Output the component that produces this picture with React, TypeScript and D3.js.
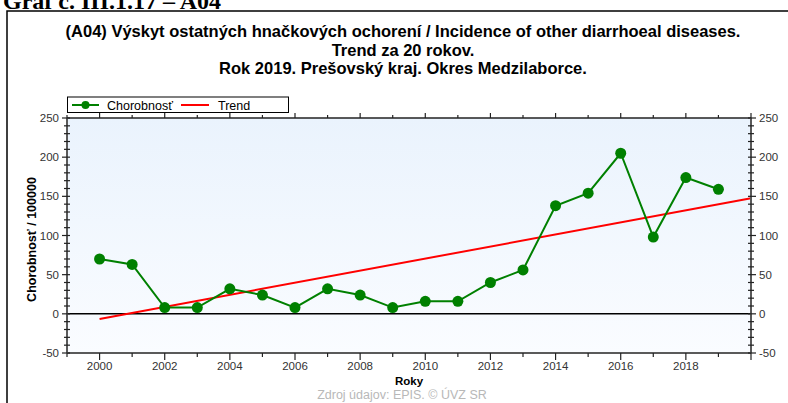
import React from "react";
import * as d3 from "d3";

const years = [2000,2001,2002,2003,2004,2005,2006,2007,2008,2009,2010,2011,2012,2013,2014,2015,2016,2017,2018,2019];
const chorobnost = [70,63,8,8,32,24,8,32,24,8,16,16,40,56,138,154,205,98,174,159];
const trendYears = [2000, 2020];
const trendValues = [-6.5, 147.5];
const yMajorTicks = [-50, 0, 50, 100, 150, 200, 250];
const xLabelYears = [2000,2002,2004,2006,2008,2010,2012,2014,2016,2018];
const titleLines = [
  "(A04) Výskyt ostatných hnačkových ochorení / Incidence of other diarrhoeal diseases.",
  "Trend za 20 rokov.",
  "Rok 2019. Prešovský kraj. Okres Medzilaborce.",
];

export default function App() {
  const W = 788, H = 403;
  const L = 67, R = 751, T = 118, B = 353;
  const x = d3.scaleLinear().domain([1999, 2020]).range([L, R]);
  const y = d3.scaleLinear().domain([-50, 250]).range([B, T]);
  const line = d3.line<number>().x((_, i) => x(years[i])).y((d) => y(d));
  const minorY = d3.range(-50, 251, 10);
  const allYears = d3.range(1999, 2021);
  const axisCol = "#5a5a5a";
  const font = "'Liberation Sans', Arial, sans-serif";
  const titleY = [37, 55.5, 74];
  return (
    <svg width={W} height={H} style={{ position: "absolute", left: 0, top: 0, display: "block" }}>
      <defs>
        <linearGradient id="bg" x1="0" y1="0" x2="0" y2="1">
          <stop offset="0" stopColor="#eaf3fd" />
          <stop offset="1" stopColor="#fafcff" />
        </linearGradient>
      </defs>
      <rect x={0} y={0} width={W} height={H} fill="#fff" />
      <text x={3} y={9} fontFamily="'Liberation Serif', 'Times New Roman', serif" fontWeight="bold" fontSize={24} fill="#000">Graf č. III.1.17 – A04</text>
      <rect x={7} y={11} width={W} height={H} fill="#fff" stroke="#000" strokeWidth={1.5} />
      {titleLines.map((t, i) => (
        <text key={i} x={403} y={titleY[i]} textAnchor="middle" fontFamily={font} fontWeight="bold" fontSize={16.5} fill="#000">{t}</text>
      ))}
      {/* legend */}
      <rect x={67.5} y={97} width={221} height={15.5} fill="#fff" stroke="#000" strokeWidth={1} />
      <line x1={72} x2={99} y1={105} y2={105} stroke="#008000" strokeWidth={2} />
      <circle cx={85.5} cy={105} r={4} fill="#008000" />
      <text x={107} y={109.5} fontFamily={font} fontSize={12.5} fill="#000">Chorobnosť</text>
      <line x1={181} x2={209} y1={105} y2={105} stroke="#ff0000" strokeWidth={2} />
      <text x={218} y={109.5} fontFamily={font} fontSize={12.5} fill="#000">Trend</text>
      {/* plot */}
      <rect x={L} y={T} width={R - L} height={B - T} fill="url(#bg)" />
      <line x1={L} x2={R} y1={y(0)} y2={y(0)} stroke="#000" strokeWidth={1.5} />
      <line x1={x(trendYears[0])} x2={x(trendYears[1])} y1={y(trendValues[0])} y2={y(trendValues[1])} stroke="#ff0000" strokeWidth={2} />
      <path d={line(chorobnost) || ""} fill="none" stroke="#008000" strokeWidth={2} />
      {chorobnost.map((v, i) => (
        <circle key={i} cx={x(years[i])} cy={y(v)} r={5.5} fill="#008000" />
      ))}
      {/* axes */}
      <line x1={L} x2={R} y1={T} y2={T} stroke="#222" strokeWidth={1.5} />
      <line x1={L} x2={R} y1={B} y2={B} stroke={axisCol} strokeWidth={2} />
      <line x1={L} x2={L} y1={T} y2={B} stroke={axisCol} strokeWidth={2} />
      <line x1={R} x2={R} y1={T} y2={B} stroke={axisCol} strokeWidth={2} />
      {allYears.map((yr) => {
        const major = yr % 2 === 0;
        return (
          <g key={yr}>
            <line x1={x(yr)} x2={x(yr)} y1={B} y2={B + (major ? 7 : 4)} stroke="#222" strokeWidth={1.2} />
            <line x1={x(yr)} x2={x(yr)} y1={T} y2={T - (major ? 5 : 3)} stroke="#222" strokeWidth={1.2} />
          </g>
        );
      })}
      {minorY.map((v) => {
        const major = v % 50 === 0;
        return (
          <g key={v}>
            <line x1={L - (major ? 5 : 3)} x2={L + 3} y1={y(v)} y2={y(v)} stroke="#222" strokeWidth={1.2} />
            <line x1={R - 3} x2={R + (major ? 5 : 3)} y1={y(v)} y2={y(v)} stroke="#222" strokeWidth={1.2} />
          </g>
        );
      })}
      {yMajorTicks.map((v) => (
        <g key={v}>
          <text x={59} y={y(v) + 4} textAnchor="end" fontFamily={font} fontSize={11.5} fill="#333">{v}</text>
          <text x={759} y={y(v) + 4} textAnchor="start" fontFamily={font} fontSize={11.5} fill="#333">{v}</text>
        </g>
      ))}
      {xLabelYears.map((yr) => (
        <text key={yr} x={x(yr)} y={370} textAnchor="middle" fontFamily={font} fontSize={11.5} fill="#333">{yr}</text>
      ))}
      <text x={409} y={385} textAnchor="middle" fontFamily={font} fontWeight="bold" fontSize={11.5} fill="#000">Roky</text>
      <text x={402} y={399} textAnchor="middle" fontFamily={font} fontSize={12.5} fill="#b8b8b8">Zdroj údajov: EPIS. © ÚVZ SR</text>
      <text transform={`translate(35.5,${(T + B) / 2 + 4}) rotate(-90)`} textAnchor="middle" fontFamily={font} fontWeight="bold" fontSize={12.5} fill="#000">Chorobnosť / 100000</text>
    </svg>
  );
}
